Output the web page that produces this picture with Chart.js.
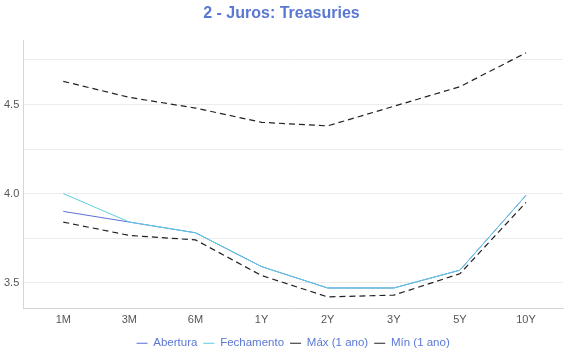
<!DOCTYPE html>
<html><head><meta charset="utf-8">
<script src="https://cdn.jsdelivr.net/npm/chart.js@4.4.0/dist/chart.umd.min.js"></script>
<style>html,body{margin:0;padding:0;background:#fff}#wrap{width:570px;height:360px}</style>
</head><body><div id="wrap"><canvas id="c" width="570" height="360"></canvas></div>
<script>
const categories = ["1M","3M","6M","1Y","2Y","3Y","5Y","10Y"];
const abertura   = [3.90, 3.84, 3.78, 3.59, 3.47, 3.47, 3.57, 3.99];
const fechamento = [4.00, 3.84, 3.78, 3.59, 3.47, 3.47, 3.57, 3.99];
const maxAno     = [4.63, 4.54, 4.48, 4.40, 4.38, 4.49, 4.60, 4.79];
const minAno     = [3.84, 3.765, 3.74, 3.54, 3.42, 3.43, 3.55, 3.95];

const pts = arr => arr.map((v,i)=>({x:i,y:v}));
const ff = "'Liberation Sans', Arial, sans-serif";
new Chart(document.getElementById('c'), {
  type: 'line',
  data: { datasets: [
    {label:'Abertura', data: pts(abertura), borderColor:'#5b6fd6', backgroundColor:'#5b6fd6', borderWidth:1, pointRadius:0, tension:0, order:4},
    {label:'Fechamento', data: pts(fechamento), borderColor:'#5ccbe3', backgroundColor:'#5ccbe3', borderWidth:1, pointRadius:0, tension:0, order:3},
    {label:'Máx (1 ano)', data: pts(maxAno), borderColor:'#222', backgroundColor:'#222', borderWidth:1.2, borderDash:[6,4], pointRadius:0, tension:0, order:2},
    {label:'Mín (1 ano)', data: pts(minAno), borderColor:'#222', backgroundColor:'#222', borderWidth:1.2, borderDash:[6,4], pointRadius:0, tension:0, order:1}
  ]},
  options: {
    responsive:false, animation:false, devicePixelRatio:1,
    layout:{padding:{left:0,right:7,top:0,bottom:1}},
    plugins:{
      title:{display:true, text:'2 - Juros: Treasuries', color:'#5a78d2', font:{family:ff, size:16, weight:'bold'}, padding:{top:4,bottom:17}},
      legend:{position:'bottom', fullSize:false, labels:{usePointStyle:true, pointStyle:'line', pointStyleWidth:11, boxWidth:11, boxHeight:1, padding:6, color:'#5a78d2', font:{family:ff, size:11.5},
              sort:(a,b)=>a.datasetIndex-b.datasetIndex}},
      tooltip:{enabled:false}
    },
    scales:{
      x:{type:'linear', min:-0.605, max:7.56,
         grid:{display:false, drawTicks:false}, border:{display:true, color:'#d6d6d6'},
         ticks:{stepSize:1, includeBounds:false, autoSkip:false, color:'#555', font:{family:ff, size:11}, padding:5,
                callback:(v)=> Number.isInteger(v) && v>=0 && v<categories.length ? categories[v] : ''}},
      y:{min:3.356, max:4.861,
         grid:{color:'#ececec', drawTicks:false}, border:{display:true, color:'#d6d6d6'},
         ticks:{stepSize:0.25, includeBounds:false, color:'#555', font:{family:ff, size:11}, padding:4,
                callback:(v)=> Math.abs(v*2-Math.round(v*2))<1e-6 ? v.toFixed(1) : ''}}
    }
  }
});
</script></body></html>
